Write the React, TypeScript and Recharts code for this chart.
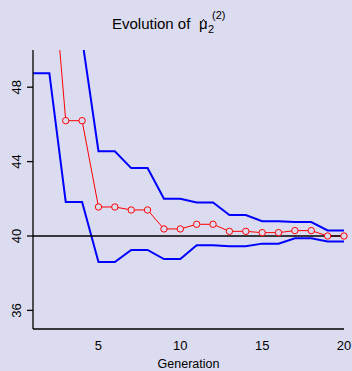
import React from "react";
import { LineChart, Line, XAxis, YAxis, ReferenceLine } from "recharts";

const generations = [1, 2, 3, 4, 5, 6, 7, 8, 9, 10, 11, 12, 13, 14, 15, 16, 17, 18, 19, 20];
const meanValues = [56.7, 56.7, 46.2, 46.2, 41.56, 41.56, 41.4, 41.4, 40.38, 40.38, 40.63, 40.63, 40.25, 40.25, 40.18, 40.18, 40.29, 40.29, 40.0, 40.0];
const upperValues = [64.6, 64.6, 50.6, 50.6, 44.56, 44.56, 43.65, 43.65, 42.0, 42.0, 41.8, 41.8, 41.13, 41.13, 40.79, 40.79, 40.75, 40.75, 40.3, 40.3];
const lowerValues = [48.75, 48.75, 41.83, 41.83, 38.6, 38.6, 39.25, 39.25, 38.76, 38.76, 39.5, 39.5, 39.45, 39.45, 39.59, 39.59, 39.88, 39.88, 39.7, 39.7];
const xTicks = [5, 10, 15, 20];
const yTicks = [36, 40, 44, 48];

const BG = "#dcdcf0";
const FONT = "'Liberation Sans', Arial, sans-serif";

const data = generations.map((g, i) => ({
  gen: g,
  mean: meanValues[i],
  upper: upperValues[i],
  lower: lowerValues[i],
}));

const XTick = (props: any) => {
  const { x, payload } = props;
  return (
    <text x={x} y={350} textAnchor="middle" fontSize={13} fill="#000" fontFamily={FONT}>
      {payload.value}
    </text>
  );
};

const YTick = (props: any) => {
  const { y, payload } = props;
  return (
    <text
      transform={`translate(21, ${y}) rotate(-90)`}
      textAnchor="middle"
      fontSize={13}
      fill="#000"
      fontFamily={FONT}
    >
      {payload.value}
    </text>
  );
};

export default function App() {
  return (
    <div
      style={{
        position: "absolute",
        top: 0,
        left: 0,
        width: 352,
        height: 371,
        background: BG,
        overflow: "hidden",
      }}
    >
      <LineChart
        width={352}
        height={371}
        data={data}
        margin={{ top: 50, right: 8, left: 0, bottom: 0 }}
      >
        <XAxis
          dataKey="gen"
          type="number"
          domain={[1, 20]}
          ticks={xTicks}
          tick={<XTick />}
          tickLine={false}
          axisLine={{ stroke: "#000", strokeWidth: 1.3 }}
          height={42}
          interval={0}
        />
        <YAxis
          type="number"
          domain={[35, 50]}
          allowDataOverflow
          ticks={yTicks}
          tick={<YTick />}
          tickSize={6}
          tickLine={{ stroke: "#000", strokeWidth: 1.3 }}
          axisLine={{ stroke: "#000", strokeWidth: 1.3 }}
          width={33}
          interval={0}
        />
        <Line
          dataKey="upper"
          stroke="#0000ff"
          strokeWidth={2}
          dot={false}
          isAnimationActive={false}
          type="linear"
        />
        <Line
          dataKey="lower"
          stroke="#0000ff"
          strokeWidth={2}
          dot={false}
          isAnimationActive={false}
          type="linear"
        />
        <Line
          dataKey="mean"
          stroke="#ff0000"
          strokeWidth={1}
          dot={{ r: 3.2, stroke: "#ff0000", strokeWidth: 1, fill: BG }}
          isAnimationActive={false}
          type="linear"
        />
        <ReferenceLine y={40} stroke="#000" strokeWidth={1.5} />
      </LineChart>
      <svg
        width={352}
        height={371}
        style={{ position: "absolute", top: 0, left: 0, pointerEvents: "none" }}
      >
        <g fontFamily={FONT} fill="#000">
          <text x={112} y={29} fontSize={15}>
            Evolution of
          </text>
          <text x={199} y={29} fontSize={15}>
            μ
          </text>
          <path d="M200.5,23.5 L203.5,19.5 L206.5,23.5" stroke="#000" strokeWidth={1} fill="none" />
          <text x={208} y={33} fontSize={11}>
            2
          </text>
          <text x={212} y={19} fontSize={11}>
            (2)
          </text>
          <text x={188.5} y={368} fontSize={12.5} textAnchor="middle">
            Generation
          </text>
        </g>
      </svg>
    </div>
  );
}
